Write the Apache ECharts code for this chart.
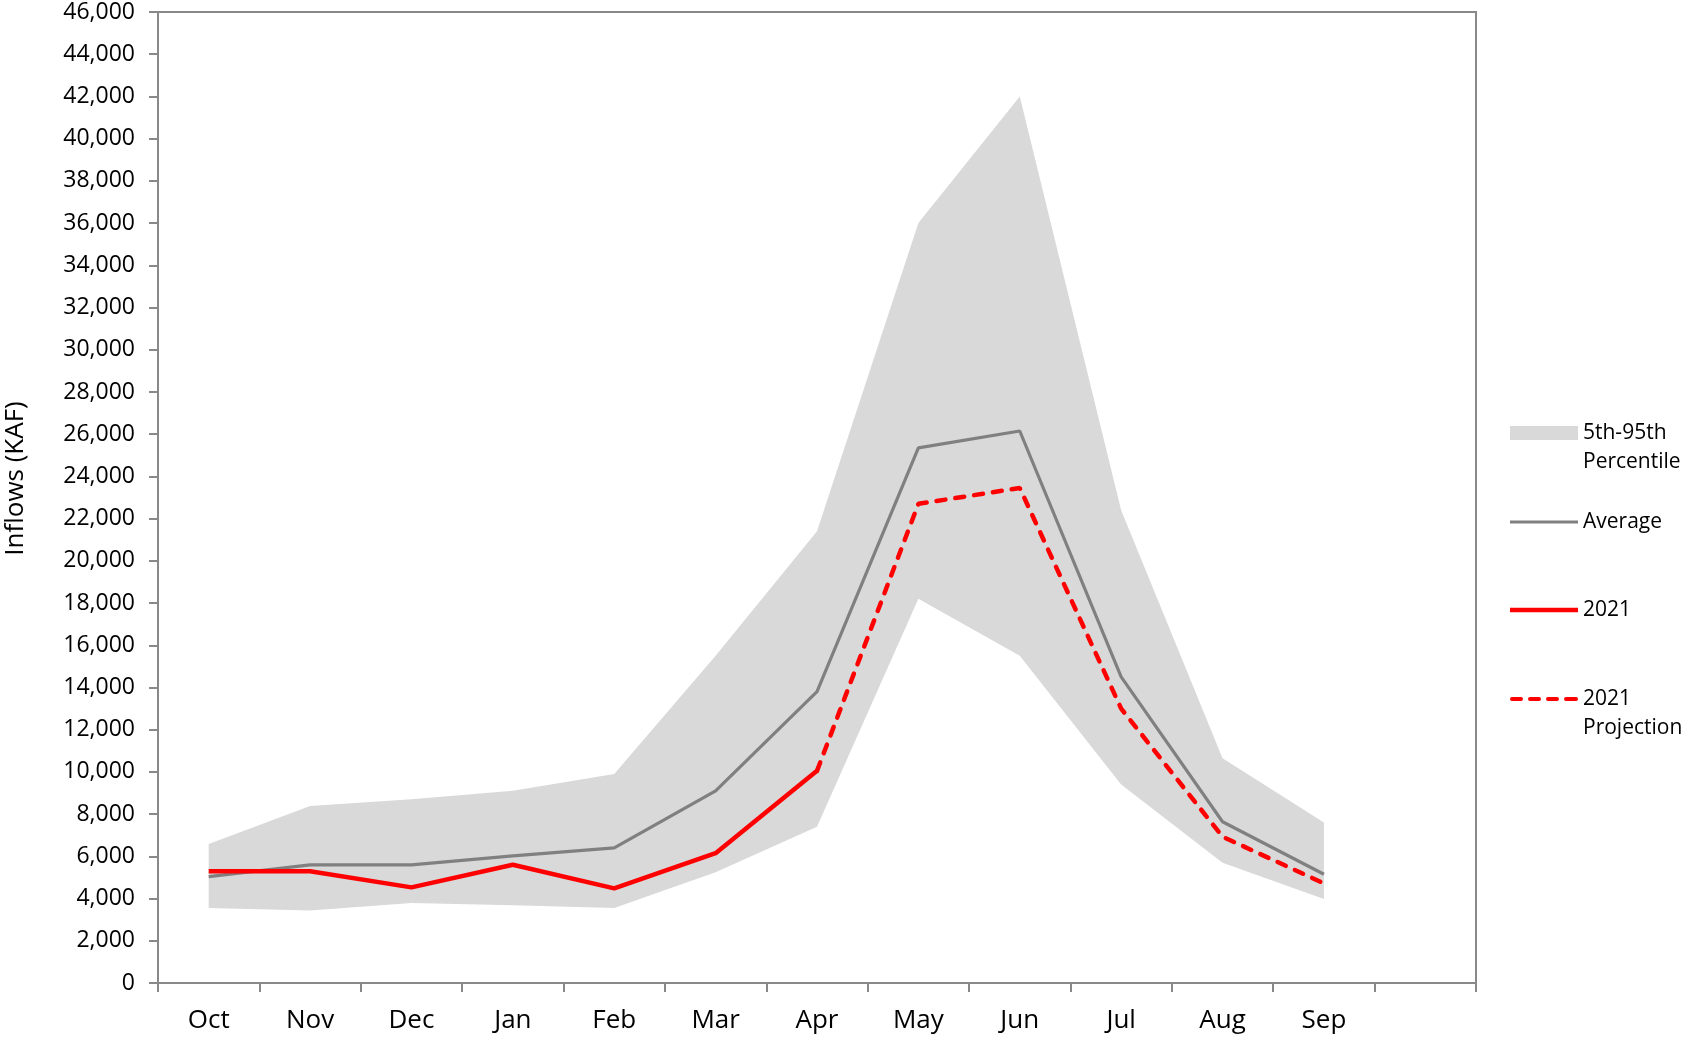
<!DOCTYPE html>
<html>
<head>
<meta charset="utf-8">
<script src="https://cdn.jsdelivr.net/npm/echarts@6/dist/echarts.min.js"></script>
<style>
html,body{margin:0;padding:0;background:#fff;}
#chart{width:1681px;height:1038px;}
</style>
</head>
<body>
<div id="chart"></div>
<script>
const months = ['Oct','Nov','Dec','Jan','Feb','Mar','Apr','May','Jun','Jul','Aug','Sep',''];
const pctLower = [3550, 3430, 3790, 3680, 3550, 5250, 7400, 18200, 15500, 9400, 5700, 3980];
const pctUpper = [6590, 8390, 8700, 9110, 9900, 15500, 21400, 36000, 42000, 22400, 10650, 7600];
const average = [5040, 5600, 5600, 6020, 6400, 9100, 13800, 25350, 26150, 14500, 7640, 5150];
const y2021 = [5290, 5290, 4530, 5600, 4480, 6150, 10050, null, null, null, null, null];
const y2021Proj = [null, null, null, null, null, null, 10050, 22700, 23450, 13000, 6930, 4720];
const yTicks = {min: 0, max: 46000, interval: 2000};

const bandDiff = pctUpper.map((u, i) => u - pctLower[i]);
const FONT = 'Open Sans';
const AX = '#898989';
const DASH_ICON = 'path://M2,0h9a2,2 0 0 1 0,4h-9a2,2 0 0 1 0,-4z M20,0h9a2,2 0 0 1 0,4h-9a2,2 0 0 1 0,-4z M38,0h9a2,2 0 0 1 0,4h-9a2,2 0 0 1 0,-4z M56,0h10a2,2 0 0 1 0,4h-10a2,2 0 0 1 0,-4z';

const chart = echarts.init(document.getElementById('chart'), null, {renderer: 'canvas'});

function legendItem(name, display, centerY, lines, icon, h, color) {
  const lh = 29;
  const n = lines;
  return {
    orient: 'vertical',
    left: 1505,
    top: centerY - 4 - (n * lh) / 2,
    itemWidth: 68,
    itemHeight: h,
    itemGap: 0,
    selectedMode: false,
    data: [{name: name, icon: icon, itemStyle: {color: color, borderWidth: 0}}],
    formatter: () => display,
    textStyle: {fontFamily: FONT, fontSize: 21, color: '#000', lineHeight: lh}
  };
}

chart.setOption({
  animation: false,
  backgroundColor: '#fff',
  grid: {left: 158, top: 12, width: 1318, height: 971, show: true, borderColor: AX, borderWidth: 2,
    backgroundColor: 'transparent', containLabel: false, outerBoundsMode: 'none'},
  legend: [
    legendItem('5th-95th Percentile', '\n5th-95th\nPercentile', 432, 3, 'rect', 14, '#d9d9d9'),
    legendItem('Average', 'Average', 521, 1, 'rect', 3, '#808080'),
    legendItem('2021', '2021', 609, 1, 'rect', 4.5, '#ff0000'),
    legendItem('2021 Projection', '\n2021\nProjection', 698, 3, DASH_ICON, 4.5, '#ff0000')
  ],
  xAxis: {
    type: 'category',
    data: months,
    boundaryGap: true,
    axisLine: {lineStyle: {color: AX, width: 2}},
    axisTick: {show: true, interval: 0, length: 9, lineStyle: {color: AX, width: 2}},
    axisLabel: {interval: 0, margin: 25, fontFamily: FONT, fontSize: 26, color: '#000'},
    splitLine: {show: false}
  },
  yAxis: {
    type: 'value',
    min: yTicks.min, max: yTicks.max, interval: yTicks.interval,
    name: 'Inflows (KAF)',
    nameLocation: 'middle',
    nameGap: 129,
    nameRotate: 90,
    nameTextStyle: {fontFamily: FONT, fontSize: 26, color: '#000', padding: [0, 0, 0, 38]},
    axisLine: {show: true, lineStyle: {color: AX, width: 2}},
    axisTick: {show: true, length: 9, lineStyle: {color: AX, width: 2}},
    axisLabel: {margin: 23, fontFamily: FONT, fontSize: 23, color: '#000',
      formatter: v => v.toLocaleString('en-US')},
    splitLine: {show: false}
  },
  series: [
    {
      name: 'lower', type: 'line', stack: 'band', data: pctLower,
      symbol: 'none', lineStyle: {width: 0, opacity: 0}, areaStyle: {color: 'rgba(255,255,255,0)'},
      silent: true, z: 1
    },
    {
      name: '5th-95th Percentile', type: 'line', stack: 'band', data: bandDiff,
      symbol: 'none', lineStyle: {width: 0, opacity: 0}, areaStyle: {color: '#d9d9d9', opacity: 1},
      itemStyle: {color: '#d9d9d9'},
      silent: true, z: 1
    },
    {
      name: 'Average', type: 'line', data: average, symbol: 'none',
      lineStyle: {color: '#808080', width: 3.2}, itemStyle: {color: '#808080'}, z: 3
    },
    {
      name: '2021', type: 'line', data: y2021, symbol: 'none',
      lineStyle: {color: '#ff0000', width: 4.5}, itemStyle: {color: '#ff0000'}, z: 5
    },
    {
      name: '2021 Projection', type: 'line', data: y2021Proj, symbol: 'none',
      lineStyle: {color: '#ff0000', width: 4.5, type: [9, 10], cap: 'round'}, itemStyle: {color: '#ff0000'}, z: 4
    }
  ]
});
</script>
</body>
</html>
